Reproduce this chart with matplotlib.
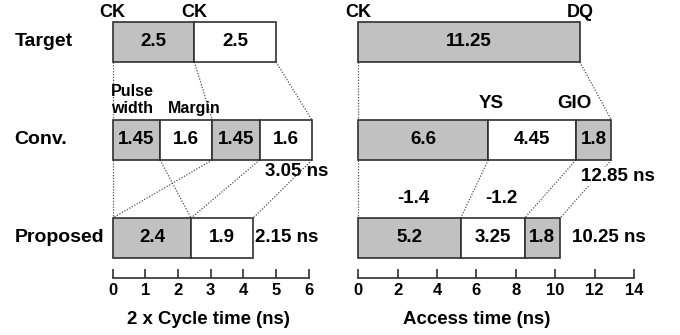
import matplotlib
matplotlib.use("Agg")
import matplotlib.pyplot as plt
import numpy as np

plt.rcParams['font.family'] = ['Liberation Sans', 'DejaVu Sans']
plt.rcParams['font.weight'] = 'bold'

rows = ["Target", "Conv.", "Proposed"]

# 2 x cycle time breakdown (ns): pulse width / margin segments
cycle_target = [2.5, 2.5]
cycle_conv = [1.45, 1.6, 1.45, 1.6]
cycle_prop = [2.4, 1.9]
cycle_ticks = [0, 1, 2, 3, 4, 5, 6]

# Access time breakdown (ns): CK->YS, YS->GIO, GIO->DQ
access_target = [11.25]
access_conv = [6.6, 4.45, 1.8]
access_prop = [5.2, 3.25, 1.8]
access_ticks = [0, 2, 4, 6, 8, 10, 12, 14]

GRAY = "#c1c1c1"
EDGE = "#303030"
DOT = "#505050"

FS_ROW = 14
FS_TXT = 13.5
FS_SMALL = 11.5
FS_TICK = 12
FS_LABEL = 13.4

row_y = [42, 140, 238]      # row centres (pixel-like units, top = 0)
bar_h = 40
axis_y = 277.7

fig = plt.figure(figsize=(6.8, 3.35), dpi=100)
W, H = 680, 335


def make_axes(x0, x1, xmax, ticks):
    ax = fig.add_axes([x0 / W, (H - axis_y) / H, (x1 - x0) / W, axis_y / H])
    ax.set_xlim(0, xmax)
    ax.set_ylim(axis_y, 0)
    ax.set_facecolor("none")
    for s in ("top", "left", "right"):
        ax.spines[s].set_visible(False)
    ax.spines["bottom"].set_linewidth(1.2)
    ax.spines["bottom"].set_color(EDGE)
    ax.set_yticks([])
    ax.set_xticks(ticks)
    ax.tick_params(axis="x", direction="in", length=6.3, width=1.2,
                   color=EDGE, pad=4, labelsize=FS_TICK)
    for t in ax.get_xticklabels():
        t.set_fontweight("bold")
    return ax


def draw_row(ax, y, widths, fills):
    edges = np.concatenate([[0], np.cumsum(widths)])
    ax.barh([y] * len(widths), widths, left=edges[:-1], height=bar_h,
            color=fills, edgecolor=EDGE, linewidth=1.2, clip_on=False, zorder=3)
    for w, l in zip(widths, edges[:-1]):
        ax.text(l + w / 2, y, f"{w:g}", ha="center", va="center",
                fontsize=FS_TXT, fontweight="bold", zorder=4, clip_on=False)
    return edges


def link(ax, upper_edges, lower_edges, pairs, y_up, y_low):
    for i, j in pairs:
        ax.plot([upper_edges[i], lower_edges[j]],
                [y_up + bar_h / 2, y_low - bar_h / 2],
                linestyle=(0, (1, 1.3)), color=DOT, linewidth=0.9,
                clip_on=False, zorder=2)


# ---------------- left panel: 2 x cycle time ----------------
axL = make_axes(112.7, 308.7, 6, cycle_ticks)
e_t = draw_row(axL, row_y[0], cycle_target, [GRAY, "white"])
e_c = draw_row(axL, row_y[1], cycle_conv, [GRAY, "white", GRAY, "white"])
e_p = draw_row(axL, row_y[2], cycle_prop, [GRAY, "white"])
link(axL, e_t, e_c, [(0, 0), (1, 2), (2, 4)], row_y[0], row_y[1])
link(axL, e_c, e_p, [(0, 0), (1, 1), (2, 0), (3, 1), (4, 2)], row_y[1], row_y[2])

for name, y in zip(rows, row_y):
    axL.text(-3.0, y, name, ha="left", va="center", fontsize=FS_ROW,
             fontweight="bold", clip_on=False)

axL.text(e_t[0], 12.5, "CK", ha="center", va="center", fontsize=13, clip_on=False)
axL.text(e_t[1], 12.5, "CK", ha="center", va="center", fontsize=13, clip_on=False)
axL.text(-0.05, 100, "Pulse\nwidth", ha="left", va="center", fontsize=FS_SMALL,
         linespacing=1.1, clip_on=False)
axL.text(e_t[1], 113.5, "Margin", ha="center", va="baseline", fontsize=FS_SMALL,
         clip_on=False)
axL.text(5.62, 172, f"{e_c[-1] / 2:.2f} ns", ha="center", va="center",
         fontsize=FS_TXT, clip_on=False, zorder=1)
axL.text(e_p[-1] + 0.07, row_y[2], f"{e_p[-1] / 2:.2f} ns", ha="left",
         va="center", fontsize=FS_TXT, clip_on=False)
axL.set_xlabel("2 x Cycle time (ns)", fontsize=FS_LABEL, fontweight="bold")
axL.xaxis.set_label_coords(0.489, -0.12)

# ---------------- right panel: access time ----------------
axR = make_axes(358.3, 634.0, 14, access_ticks)
a_t = draw_row(axR, row_y[0], access_target, [GRAY])
a_c = draw_row(axR, row_y[1], access_conv, [GRAY, "white", GRAY])
a_p = draw_row(axR, row_y[2], access_prop, [GRAY, "white", GRAY])
link(axR, a_t, a_c, [(0, 0), (1, 3)], row_y[0], row_y[1])
link(axR, a_c, a_p, [(0, 0), (1, 1), (2, 2), (3, 3)], row_y[1], row_y[2])

axR.text(a_t[0], 12.5, "CK", ha="center", va="center", fontsize=13, clip_on=False)
axR.text(a_t[1], 12.5, "DQ", ha="center", va="center", fontsize=13, clip_on=False)
axR.text(6.75, 104, "YS", ha="center", va="center", fontsize=FS_TXT, clip_on=False)
axR.text(10.96, 104, "GIO", ha="center", va="center", fontsize=FS_TXT, clip_on=False)
axR.text(13.19, 176.5, f"{a_c[-1]:.2f} ns", ha="center", va="center",
         fontsize=FS_TXT, clip_on=False, zorder=5,
         bbox=dict(facecolor="white", edgecolor="none", pad=0.5))
d1 = access_prop[0] - access_conv[0]
d2 = access_prop[1] - access_conv[1]
axR.text(2.78, 198.3, f"{d1:.1f}", ha="center", va="center", fontsize=FS_TXT,
         clip_on=False)
axR.text(7.25, 198.3, f"{d2:.1f}", ha="center", va="center", fontsize=FS_TXT,
         clip_on=False)
axR.text(a_p[-1] + 0.61, row_y[2], f"{a_p[-1]:.2f} ns", ha="left",
         va="center", fontsize=FS_TXT, clip_on=False)
axR.set_xlabel("Access time (ns)", fontsize=FS_LABEL, fontweight="bold")
axR.xaxis.set_label_coords(0.43, -0.12)

fig.savefig("out.png", dpi=100, facecolor="white")
